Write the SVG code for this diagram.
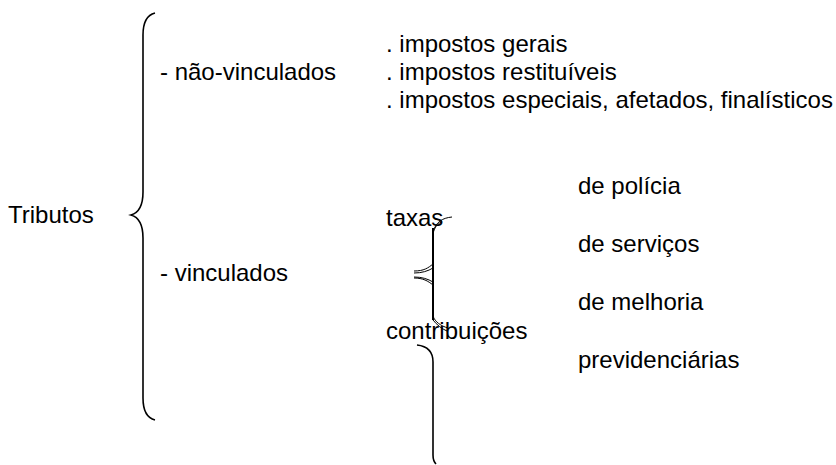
<svg xmlns="http://www.w3.org/2000/svg" width="836" height="465" viewBox="0 0 836 465">
<style>
text{font-family:"Liberation Sans",Arial,sans-serif;font-size:24px;fill:#000}
.br{fill:none;stroke:#000;stroke-width:1.6}
.sp{fill:none;stroke:#000;stroke-width:2}
.thin{fill:none;stroke:#000;stroke-width:1}
</style>
<rect width="836" height="465" fill="#fff"/>
<g id="tributos"><text x="8" y="223">Tributos</text></g>
<g id="nao-vinculados"><text x="160" y="80">- não-vinculados</text></g>
<g id="vinculados"><text x="160" y="281">- vinculados</text></g>
<g id="impostos-gerais"><text x="386" y="52">. impostos gerais</text></g>
<g id="impostos-restituiveis"><text x="386" y="80">. impostos restituíveis</text></g>
<g id="impostos-especiais"><text x="386" y="108">. impostos especiais, afetados, finalísticos</text></g>
<g id="taxas"><text x="386" y="226">taxas</text></g>
<g id="contribuicoes"><text x="386" y="339">contribuições</text></g>
<g id="de-policia"><text x="578" y="194">de polícia</text></g>
<g id="de-servicos"><text x="578" y="252">de serviços</text></g>
<g id="de-melhoria"><text x="578" y="310">de melhoria</text></g>
<g id="previdenciarias"><text x="578" y="368">previdenciárias</text></g>
<g id="connectors">
<path class="br" d="M155,13 C147,15 143,22 143,35 L143,192 C143,206 138,213 131,215 C138,217 143,224 143,238 L143,398 C143,410 147,418 155,420"/>
<path class="thin" d="M452,217 C442,218 436,222 433,232"/>
<path class="thin" d="M441,222 C436,225 433,230 433,236"/>
<path class="sp" d="M433,228 L433,320"/>
<path class="thin" d="M433,264 C428,268 424,271 414,271"/>
<path class="thin" d="M433,268 C428,271 422,273 414,273"/>
<path class="thin" d="M433,285 C428,281 423,278 414,278"/>
<path class="thin" d="M433,282 C428,279 422,277 414,277"/>
<path class="thin" d="M433,316 C435,322 441,326 448,328"/>
<path class="thin" d="M433,320 C437,325 442,329 447,331"/>
<path class="br" d="M417,345 C426,346 433,351 433,362 L433,455 C433,459 434,462 436,464"/>
</g>
</svg>
